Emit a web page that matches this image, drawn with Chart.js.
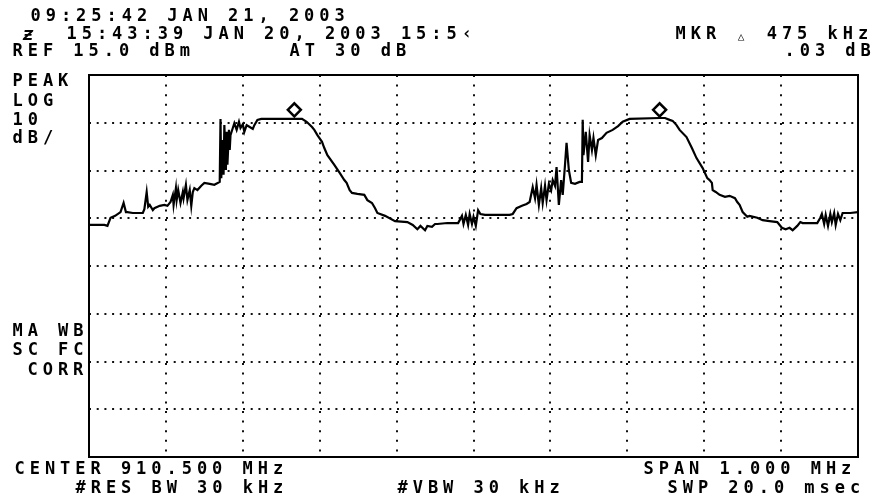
<!DOCTYPE html>
<html>
<head>
<meta charset="utf-8">
<script src="https://cdn.jsdelivr.net/npm/chart.js@4/dist/chart.umd.min.js"></script>
<style>
  html, body { margin: 0; padding: 0; background: #fff; }
  #wrap { width: 878px; height: 504px; }
</style>
</head>
<body>
<div id="wrap"><canvas id="sa" width="878" height="504"></canvas></div>
<script>
// offset from center 910.500 MHz, kHz
const freqKHz = [
  -500, -480, -476, -472, -466, -459, -455, -452, -450, -443, -430, -428, -425, -423, -421, -417, -415, -408, -402, -398,
  -394, -391, -390, -387, -386, -384, -381, -378, -377, -374, -372, -369, -367, -365, -363, -359, -354, -350, -343, -337,
  -330, -329, -328, -326, -325, -324, -322, -321, -320, -318, -317, -316, -313, -311, -308, -305, -303, -300, -298, -295,
  -291, -287, -285, -281, -276, -239, -223, -217, -210, -207, -203, -197, -194, -190, -181, -174, -168, -165, -161, -158,
  -151, -142, -138, -132, -128, -125, -115, -102, -86, -79, -73, -69, -63, -60, -54, -50, -47, -34, -20, -15,
  -13, -10, -7, -5, -2, 0, 3, 6, 9, 15, 47, 51, 56, 63, 69, 73, 77, 80, 82, 85,
  88, 90, 93, 95, 98, 101, 103, 106, 108, 111, 114, 116, 119, 121, 124, 127, 132, 138, 141, 142,
  143, 146, 149, 151, 154, 156, 159, 162, 167, 173, 181, 188, 194, 203, 242, 249, 255, 259, 264, 268,
  277, 284, 290, 298, 304, 307, 310, 311, 315, 320, 327, 333, 340, 343, 346, 350, 356, 359, 369, 376,
  385, 395, 401, 406, 411, 415, 421, 425, 428, 438, 447, 451, 453, 456, 458, 461, 464, 466, 469, 471,
  474, 477, 480, 490, 500
];
// dBm
const levelDbm = [
  -16.4, -16.4, -16.6, -14.9, -14.5, -13.7, -11.8, -13.7, -13.7, -13.9, -13.9, -13.1, -9.5, -12.6, -12.2, -13.3, -12.9, -12.4, -12.2, -12.4,
  -11.6, -10.1, -12.2, -8.7, -11.2, -9.1, -11.8, -9.5, -10.8, -8.0, -11.2, -9.1, -12.4, -9.5, -8.7, -9.1, -8.2, -7.6, -7.8, -8.0,
  -7.4, 5.8, -6.6, 1.4, -5.9, 4.5, -4.9, 3.1, -3.8, 3.5, -0.7, 2.4, 3.9, 4.9, 3.5, 5.2, 3.9, 4.7, 3.1, 4.5,
  4.1, 3.7, 4.5, 5.6, 5.8, 5.8, 5.8, 5.2, 4.1, 3.5, 2.4, 1.0, -0.3, -1.8, -3.8, -5.5, -7.0, -7.6, -9.1, -9.7,
  -9.9, -10.1, -11.2, -11.8, -12.9, -13.9, -14.5, -15.6, -15.8, -16.4, -17.3, -16.6, -17.5, -16.6, -16.8, -16.2, -16.2, -16.0, -16.0, -14.5,
  -16.2, -14.3, -16.4, -14.1, -16.2, -14.7, -16.6, -13.3, -14.1, -14.3, -14.3, -14.1, -12.9, -12.4, -12.0, -11.6, -8.5, -10.8, -8.0, -12.2,
  -8.7, -11.8, -8.2, -11.2, -7.8, -9.1, -7.0, -8.2, -4.3, -12.2, -7.0, -10.1, -3.8, 0.8, -4.9, -7.6, -7.8, -7.4, -7.4, 5.6,
  -1.8, 3.1, -3.2, 2.4, -0.7, 1.8, -1.8, 1.4, 1.8, 2.9, 3.5, 4.3, 5.2, 5.8, 6.0, 6.0, 5.6, 5.4, 4.5, 3.5,
  2.0, -0.3, -2.4, -4.5, -6.6, -7.0, -7.6, -9.1, -9.5, -10.1, -10.5, -10.3, -10.8, -11.6, -12.2, -13.7, -14.7, -14.5, -14.9, -15.4,
  -15.6, -15.8, -17.0, -17.3, -17.0, -17.5, -16.6, -15.8, -16.0, -16.0, -16.0, -14.9, -14.1, -16.2, -14.3, -16.6, -14.1, -15.8, -13.9, -16.4,
  -14.1, -15.4, -13.9, -13.9, -13.7
];
const markerKHz = [-233, 242];
const markerDbm = [7.7, 7.7];

// 10 divisions of 100 kHz, 8 divisions of 10 dB (REF 15.0 dBm)
const xGrid = [-500, -400, -300, -200, -100, 0, 100, 200, 300, 400, 500];
const yGrid = [15, 5, -5, -15, -25, -35, -45, -55, -65];

// annotation text, placed on the instrument's character grid
const screenText = [
  { t: '09:25:42 JAN 21, 2003', x: 31, y: 17 },
  { t: '15:43:39 JAN 20, 2003 15:5\u2039', x: 67, y: 35 },
  { t: 'MKR \u0394 475 kHz', x: 676, y: 35 },
  { t: 'REF 15.0 dBm', x: 13, y: 52 },
  { t: 'AT 30 dB', x: 290, y: 52 },
  { t: '.03 dB', x: 785, y: 52 },
  { t: 'PEAK', x: 13, y: 82 },
  { t: 'LOG', x: 13, y: 102 },
  { t: '10', x: 13, y: 121 },
  { t: 'dB/', x: 13, y: 139 },
  { t: 'MA WB', x: 13, y: 332 },
  { t: 'SC FC', x: 13, y: 351 },
  { t: 'CORR', x: 28, y: 371 },
  { t: 'CENTER 910.500 MHz', x: 15, y: 470 },
  { t: 'SPAN 1.000 MHz', x: 644, y: 470 },
  { t: '#RES BW 30 kHz', x: 76, y: 489 },
  { t: '#VBW 30 kHz', x: 398, y: 489 },
  { t: 'SWP 20.0 msec', x: 668, y: 489 }
];

const CHAR_W = 15.2;
const FONT = 'bold 17px "DejaVu Sans Mono"';

const framePlugin = {
  id: 'frame',
  beforeDatasetsDraw(chart) {
    const { ctx, chartArea: a } = chart;
    ctx.save();
    ctx.strokeStyle = '#000';
    ctx.lineWidth = 2;
    ctx.strokeRect(a.left, a.top, a.right - a.left, a.bottom - a.top);
    ctx.restore();
  }
};

const textPlugin = {
  id: 'screenText',
  afterDraw(chart) {
    const ctx = chart.ctx;
    ctx.save();
    ctx.fillStyle = '#000';
    ctx.font = FONT;
    ctx.textBaseline = 'middle';
    ctx.textAlign = 'left';
    screenText.forEach(item => {
      for (let i = 0; i < item.t.length; i++) {
        const c = item.t[i];
        if (c === '\u0394') {
          ctx.font = 'bold 11px "DejaVu Sans Mono"';
          ctx.fillText('\u25B3', item.x + i * CHAR_W + 1, item.y + 2);
          ctx.font = FONT;
        } else {
          ctx.fillText(c, item.x + i * CHAR_W - 0.5, item.y);
        }
      }
    });
    // little symbol ahead of the second time stamp
    ctx.font = 'italic bold 14px "DejaVu Sans"';
    ctx.fillText('\u01B5', 23, 36);
    ctx.restore();
  }
};

const ctx = document.getElementById('sa').getContext('2d');
new Chart(ctx, {
  type: 'line',
  data: {
    datasets: [
      {
        type: 'scatter',
        data: markerKHz.map((x, i) => ({ x: x, y: markerDbm[i] })),
        pointStyle: 'rectRot',
        pointRadius: 6.5,
        borderColor: '#000',
        backgroundColor: '#fff',
        borderWidth: 2.5,
        order: 0
      },
      {
        data: freqKHz.map((x, i) => ({ x: x, y: levelDbm[i] })),
        borderColor: '#000',
        borderWidth: 2.2,
        pointRadius: 0,
        tension: 0,
        fill: false,
        order: 1
      }
    ]
  },
  options: {
    responsive: false,
    animation: false,
    devicePixelRatio: 1,
    layout: { padding: { left: 89, top: 75, right: 20, bottom: 47 } },
    plugins: { legend: { display: false }, tooltip: { enabled: false } },
    scales: {
      x: {
        type: 'linear',
        min: -500,
        max: 500,
        afterBuildTicks: s => { s.ticks = xGrid.map(v => ({ value: v })); },
        ticks: { display: false },
        grid: { color: '#111', lineWidth: 2, drawTicks: false, tickLength: 0 },
        border: { display: false, dash: [2, 7.6] }
      },
      y: {
        min: -65,
        max: 15,
        afterBuildTicks: s => { s.ticks = yGrid.map(v => ({ value: v })); },
        ticks: { display: false },
        grid: { color: '#111', lineWidth: 2, drawTicks: false, tickLength: 0 },
        border: { display: false, dash: [2, 5.7] }
      }
    }
  },
  plugins: [framePlugin, textPlugin]
});
</script>
</body>
</html>
